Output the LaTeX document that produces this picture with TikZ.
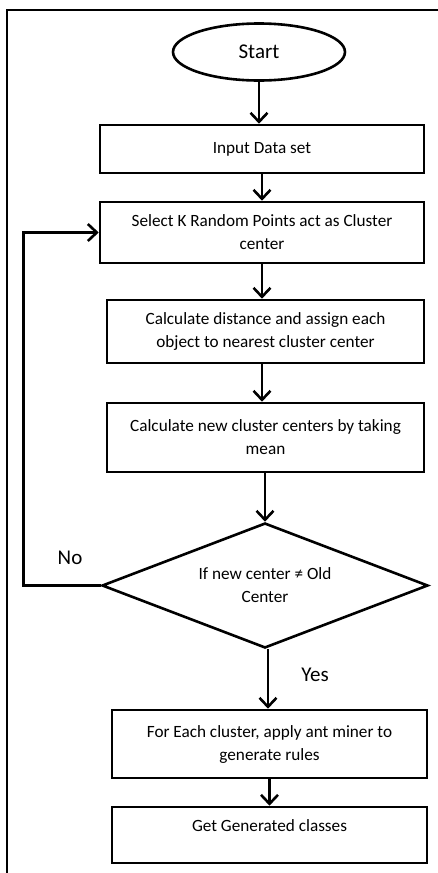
\documentclass[tikz,border=0pt]{standalone}
\usepackage{fontspec}
\setmainfont{Carlito}
\usetikzlibrary{shapes.geometric,arrows.meta}
\begin{document}
\begin{tikzpicture}[x=1pt,y=-1pt,
  every node/.style={font=\fontsize{17.2}{23}\selectfont},
  box/.style={draw,line width=2.6pt,rectangle,align=center,inner sep=0pt},
  arr/.style={line width=2.6pt,-{Straight Barb[length=9pt,width=17pt,line width=2.6pt]}},
  lbl/.style={font=\fontsize{21}{24}\selectfont,inner sep=0pt}]
\useasboundingbox (0,0) rectangle (438,873);
\draw[line width=2.7pt] (7,873) -- (7,10) -- (438,10);
\node[draw,ellipse,line width=2.6pt,minimum width=172pt,minimum height=57pt,inner sep=0pt,font=\fontsize{21}{24}\selectfont] (start) at (259,52) {Start};
\node[box,minimum width=324pt,minimum height=48pt] (input) at (262,149) {Input Data set};
\node[box,minimum width=324pt,minimum height=61pt] (select) at (262,232.5) {Select K Random Points act as Cluster\\center};
\node[box,minimum width=317pt,minimum height=63pt] (dist) at (265.5,331.5) {Calculate distance and assign each\\object to nearest cluster center};
\node[box,minimum width=317pt,minimum height=69pt] (mean) at (265.5,437.5) {Calculate new cluster centers by taking\\mean};
\node[draw,diamond,aspect=2.6,line width=2.6pt,minimum width=326pt,minimum height=125pt,inner sep=0pt,align=center] (dec) at (265,585.5) {If new center ≠ Old\\Center};
\node[box,minimum width=315pt,minimum height=68pt] (each) at (269.5,744) {For Each cluster, apply ant miner to\\generate rules};
\node[box,minimum width=315pt,minimum height=56pt,text height=12pt,text depth=19pt] (get) at (269.5,835) {Get Generated classes};
\node[lbl] (no) at (70,558) {No};
\node[lbl] (yes) at (315,675) {Yes};
\draw[arr] (start.south) -- (start.south |- input.north);
\draw[arr] (input.south) -- (input.south |- select.north);
\draw[arr] (select.south) -- (select.south |- dist.north);
\draw[arr] (select.south |- dist.south) -- (select.south |- mean.north);
\draw[arr] (dec.north |- mean.south) -- (dec.north);
\draw[arr] ([xshift=3pt]dec.south) -- ([xshift=3pt]dec.south |- each.north);
\draw[arr] (each.south) -- (each.south |- get.north);
\draw[arr] (dec.west) -- ++(-77,0) |- (select.west);
\end{tikzpicture}
\end{document}
